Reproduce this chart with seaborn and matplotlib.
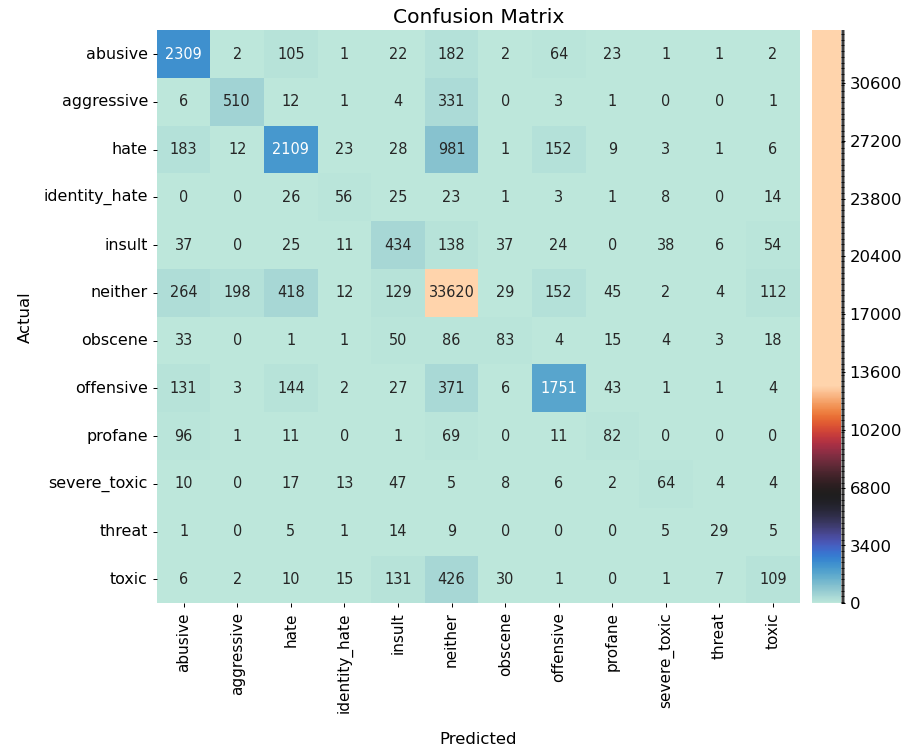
import numpy as np
import pandas as pd
import seaborn as sns
from matplotlib import pyplot as plt
from matplotlib.colors import BoundaryNorm, ListedColormap

# class labels (rows = actual, columns = predicted)
labels = ["abusive", "aggressive", "hate", "identity_hate", "insult", "neither",
          "obscene", "offensive", "profane", "severe_toxic", "threat", "toxic"]

row_abusive = [2309, 2, 105, 1, 22, 182, 2, 64, 23, 1, 1, 2]
row_aggressive = [6, 510, 12, 1, 4, 331, 0, 3, 1, 0, 0, 1]
row_hate = [183, 12, 2109, 23, 28, 981, 1, 152, 9, 3, 1, 6]
row_identity_hate = [0, 0, 26, 56, 25, 23, 1, 3, 1, 8, 0, 14]
row_insult = [37, 0, 25, 11, 434, 138, 37, 24, 0, 38, 6, 54]
row_neither = [264, 198, 418, 12, 129, 33620, 29, 152, 45, 2, 4, 112]
row_obscene = [33, 0, 1, 1, 50, 86, 83, 4, 15, 4, 3, 18]
row_offensive = [131, 3, 144, 2, 27, 371, 6, 1751, 43, 1, 1, 4]
row_profane = [96, 1, 11, 0, 1, 69, 0, 11, 82, 0, 0, 0]
row_severe_toxic = [10, 0, 17, 13, 47, 5, 8, 6, 2, 64, 4, 4]
row_threat = [1, 0, 5, 1, 14, 9, 0, 0, 0, 5, 29, 5]
row_toxic = [6, 2, 10, 15, 131, 426, 30, 1, 0, 1, 7, 109]

cm = pd.DataFrame(
    [row_abusive, row_aggressive, row_hate, row_identity_hate, row_insult, row_neither,
     row_obscene, row_offensive, row_profane, row_severe_toxic, row_threat, row_toxic],
    index=labels, columns=labels)

# bins of width 50; only the first 256 bins get distinct icefire colours,
# everything above saturates at the top colour
bounds = np.arange(0, 33750, 50)
nbins = len(bounds) - 1
pal = sns.color_palette("icefire", 256)
colors = list(pal) + [pal[-1]] * (nbins - 256)
cmap = ListedColormap(colors)
norm = BoundaryNorm(bounds, ncolors=nbins)

fig = plt.figure(figsize=(10, 8.29), dpi=91.2)
ax = fig.add_axes([0.172, 0.202, 0.705, 0.758])
cax = fig.add_axes([0.890, 0.202, 0.032, 0.758])

sns.heatmap(cm, annot=True, fmt="d", cmap=cmap, norm=norm,
            annot_kws={"size": 11.5}, ax=ax, cbar_ax=cax)

ax.set_title("Confusion Matrix", fontsize=16)
ax.set_xlabel("Predicted", fontsize=13, labelpad=15)
ax.set_ylabel("Actual", fontsize=13, labelpad=8)
ax.tick_params(axis="y", labelsize=12.5)
ax.tick_params(axis="x", labelsize=12)
cax.tick_params(labelsize=13)

plt.savefig("out.png", dpi=91.2)
